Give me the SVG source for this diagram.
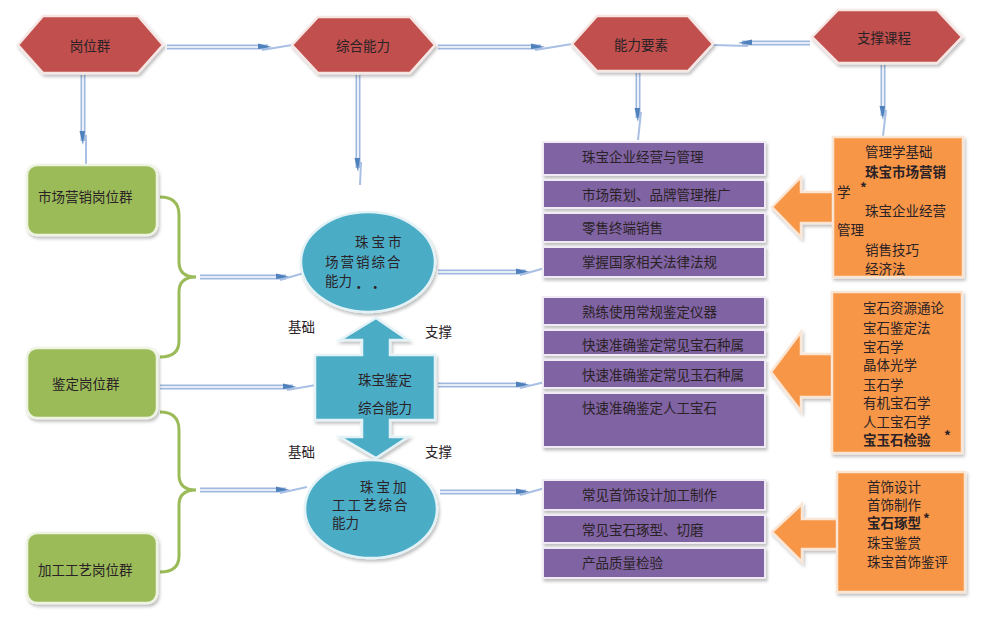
<svg xmlns="http://www.w3.org/2000/svg" width="1000" height="643" viewBox="0 0 1000 643">
<defs>
<filter id="sh" x="-10%" y="-10%" width="130%" height="130%"><feDropShadow dx="1.5" dy="2.5" stdDeviation="1.5" flood-color="#000" flood-opacity="0.25"/></filter>
</defs>
<style>
text{font-family:"Noto Sans CJK SC","Noto Sans",sans-serif;font-size:13.5px;fill:#2a2226}
.hex{fill:#c0504d;stroke:#f6e6e4;stroke-width:2.5;filter:url(#sh)}
.grn{fill:#9bbb59;stroke:#eef3e2;stroke-width:2.5;filter:url(#sh)}
.blu{fill:#4bacc6;stroke:#e3f2f6;stroke-width:2.5;filter:url(#sh)}
.pur{fill:#8064a2;stroke:#efeaf4;stroke-width:2;filter:url(#sh)}
.org{fill:#f79646;stroke:#fbe6d6;stroke-width:2.5;filter:url(#sh)}
.dbl{stroke:#9fb8df;stroke-width:5;fill:none}
.dbi{stroke:#ffffff;stroke-width:1.6;fill:none}
.sl{stroke:#a9c0e4;stroke-width:2;fill:none}
.hd{fill:#4f81bd}
.brace{stroke:#9bbb59;stroke-width:3;fill:none}
.b{font-weight:bold}
.c{text-anchor:middle}
</style>

<g id="connectors">
<path class="brace" d="M160 197 Q179 197 179 215 L179 262 Q179 277 196 277 Q179 277 179 292 L179 341 Q179 357 160 357"/>
<path class="brace" d="M160 412 Q179 412 179 430 L179 475 Q179 490 196 490 Q179 490 179 505 L179 556 Q179 572 160 572"/>
<path class="dbl" d="M167 47 H268"/><path class="dbi" d="M167 47 H268"/>
<polygon class="hd" points="258,43.5 272,47 258,49"/><path class="sl" d="M262 50 L292 45"/>
<path class="dbl" d="M438 47 H541"/><path class="dbi" d="M438 47 H541"/>
<polygon class="hd" points="531,43.5 545,47 531,49"/><path class="sl" d="M535 50 L572 44"/>
<path class="dbl" d="M810 43 H742"/><path class="dbi" d="M810 43 H742"/>
<polygon class="hd" points="752,39.5 738,43 752,45"/><path class="sl" d="M748 46 L713 45"/>
<path class="dbl" d="M83 75 V141"/><path class="dbi" d="M83 75 V141"/>
<polygon class="hd" points="79.5,131 83,145 85,131"/><path class="sl" d="M86 135 L86 165"/>
<path class="dbl" d="M358 75 V168"/><path class="dbi" d="M358 75 V168"/>
<polygon class="hd" points="354.5,158 358,172 360,158"/><path class="sl" d="M361 162 L360 185"/>
<path class="dbl" d="M638 73 V118"/><path class="dbi" d="M638 73 V118"/>
<polygon class="hd" points="634.5,108 638,122 640,108"/><path class="sl" d="M641 112 L638 140"/>
<path class="dbl" d="M883 65 V116"/><path class="dbi" d="M883 65 V116"/>
<polygon class="hd" points="879.5,106 883,120 885,106"/><path class="sl" d="M886 110 L883 136"/>
<path class="dbl" d="M200 277 H286"/><path class="dbi" d="M200 277 H286"/>
<polygon class="hd" points="276,273.5 290,277 276,279"/><path class="sl" d="M280 280 L304 273"/>
<path class="dbl" d="M160 387 H293"/><path class="dbi" d="M160 387 H293"/>
<polygon class="hd" points="283,383.5 297,387 283,389"/><path class="sl" d="M287 390 L316 385"/>
<path class="dbl" d="M200 490 H286"/><path class="dbi" d="M200 490 H286"/>
<polygon class="hd" points="276,486.5 290,490 276,492"/><path class="sl" d="M280 493 L307 487"/>
<path class="dbl" d="M438 272 H526"/><path class="dbi" d="M438 272 H526"/>
<polygon class="hd" points="516,268.5 530,272 516,274"/><path class="sl" d="M520 275 L545 268"/>
<path class="dbl" d="M438 385 H526"/><path class="dbi" d="M438 385 H526"/>
<polygon class="hd" points="516,381.5 530,385 516,387"/><path class="sl" d="M520 388 L545 382"/>
<path class="dbl" d="M440 492 H526"/><path class="dbi" d="M440 492 H526"/>
<polygon class="hd" points="516,488.5 530,492 516,494"/><path class="sl" d="M520 495 L545 488"/>
<polygon class="org" points="772,207 801,177 801,192 835,192 835,223 801,223 801,237"/>
<polygon class="org" points="771,372 801,332 801,354 834,354 834,397 801,397 801,411"/>
<polygon class="org" points="772,532 802,504 802,519 839,519 839,549 802,549 802,562"/>
</g>

<g id="hex1"><polygon class="hex" points="18,45 43,16 138,16 163,45 138,73 43,73"/><text class="c" x="90" y="51">岗位群</text></g>
<g id="hex2"><polygon class="hex" points="292,45 318,17 410,17 435,45 410,73 318,73"/><text class="c" x="363" y="51">综合能力</text></g>
<g id="hex3"><polygon class="hex" points="572,44 597,16 688,16 713,44 688,71 597,71"/><text class="c" x="641" y="50">能力要素</text></g>
<g id="hex4"><polygon class="hex" points="812,37 838,10 937,10 962,37 937,63 838,63"/><text class="c" x="884" y="43">支撑课程</text></g>

<g id="job1"><rect class="grn" x="27" y="165" width="130" height="70" rx="10"/><text x="38" y="202">市场营销岗位群</text></g>
<g id="job2"><rect class="grn" x="27" y="348" width="130" height="70" rx="10"/><text x="52" y="389">鉴定岗位群</text></g>
<g id="job3"><rect class="grn" x="27" y="533" width="130" height="70" rx="10"/><text x="38" y="575">加工工艺岗位群</text></g>

<g id="ability1"><ellipse class="blu" cx="368" cy="262" rx="67" ry="50"/>
<text x="355" y="247">珠 宝 市</text>
<text x="325" y="267" letter-spacing="2">场营销综合</text>
<text x="325" y="286">能力</text>
<text x="352" y="292" font-size="7" fill="#555">•     •</text></g>

<g id="ability2"><polygon class="blu" points="376,318 408,340 390,340 390,355 435,355 435,420 390,420 390,437 408,437 376,458 340,437 362,437 362,420 315,420 315,355 362,355 362,340 340,340"/>
<text x="358" y="385">珠宝鉴定</text>
<text x="358" y="413">综合能力</text></g>

<g id="ability3"><ellipse class="blu" cx="371" cy="509" rx="66" ry="49"/>
<text x="360" y="492">珠 宝 加</text>
<text x="332" y="510" letter-spacing="2">工工艺综合</text>
<text x="332" y="528">能力</text></g>

<g id="labels">
<text x="288" y="332">基础</text><text x="425" y="337">支撑</text>
<text x="288" y="457">基础</text><text x="425" y="457">支撑</text>
</g>

<g id="elements1">
<rect class="pur" x="543" y="142" width="222" height="33"/><text x="582" y="162">珠宝企业经营与管理</text>
<rect class="pur" x="543" y="180" width="222" height="28"/><text x="582" y="200">市场策划、品牌管理推广</text>
<rect class="pur" x="543" y="213" width="222" height="29"/><text x="582" y="233">零售终端销售</text>
<rect class="pur" x="543" y="247" width="222" height="30"/><text x="582" y="267">掌握国家相关法律法规</text>
</g>
<g id="elements2">
<rect class="pur" x="543" y="297" width="222" height="28"/><text x="582" y="317">熟练使用常规鉴定仪器</text>
<rect class="pur" x="543" y="330" width="222" height="25"/><text x="582" y="350">快速准确鉴定常见宝石种属</text>
<rect class="pur" x="543" y="360" width="222" height="28"/><text x="582" y="380">快速准确鉴定常见玉石种属</text>
<rect class="pur" x="543" y="393" width="222" height="54"/><text x="582" y="413">快速准确鉴定人工宝石</text>
</g>
<g id="elements3">
<rect class="pur" x="543" y="480" width="222" height="30"/><text x="582" y="500">常见首饰设计加工制作</text>
<rect class="pur" x="543" y="515" width="222" height="28"/><text x="582" y="535">常见宝石琢型、切磨</text>
<rect class="pur" x="543" y="548" width="222" height="30"/><text x="582" y="568">产品质量检验</text>
</g>

<g id="courses1"><rect class="org" x="833" y="137" width="130" height="140"/>
<text x="865" y="157">管理学基础</text>
<text class="b" x="865" y="177">珠宝市场营销</text>
<text x="837" y="197">学</text><text class="b" x="860" y="193" font-size="11">*</text>
<text x="865" y="216">珠宝企业经营</text>
<text x="837" y="235">管理</text>
<text x="865" y="255">销售技巧</text>
<text x="865" y="274">经济法</text></g>

<g id="courses2"><rect class="org" x="832" y="292" width="130" height="161"/>
<text x="863" y="313">宝石资源通论</text>
<text x="863" y="333">宝石鉴定法</text>
<text x="863" y="352">宝石学</text>
<text x="863" y="370">晶体光学</text>
<text x="863" y="390">玉石学</text>
<text x="863" y="408">有机宝石学</text>
<text x="863" y="427">人工宝石学</text>
<text class="b" x="863" y="445">宝玉石检验</text><text class="b" x="944" y="441" font-size="11">*</text></g>

<g id="courses3"><rect class="org" x="837" y="472" width="128" height="120"/>
<text x="867" y="492">首饰设计</text>
<text x="867" y="510">首饰制作</text>
<text class="b" x="867" y="528">宝石琢型</text><text class="b" x="923" y="524" font-size="11">*</text>
<text x="867" y="548">珠宝鉴赏</text>
<text x="867" y="567">珠宝首饰鉴评</text></g>
</svg>
